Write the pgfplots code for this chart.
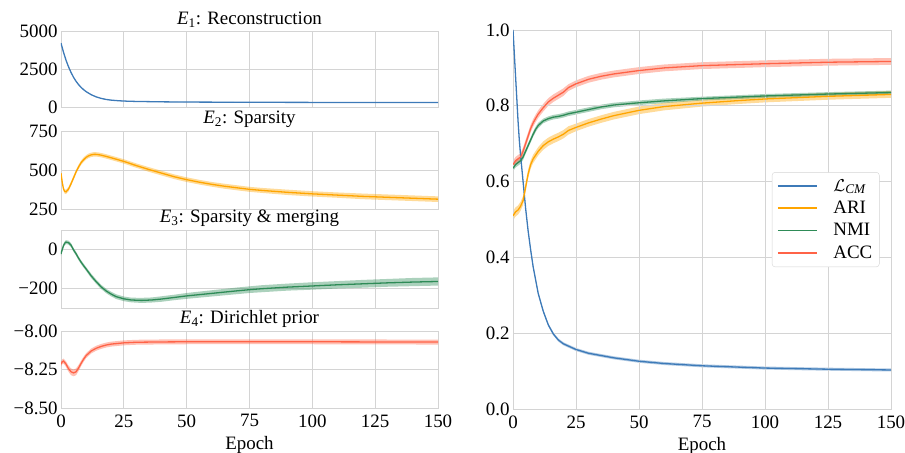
\documentclass[border=0pt]{standalone}
\usepackage{fontspec}
\setmainfont{Liberation Serif}
\usepackage{pgfplots}
\usepackage{pgfplotstable}
\pgfplotsset{compat=1.18}

\definecolor{cblue}{RGB}{61,122,184}
\definecolor{corange}{RGB}{255,165,0}
\definecolor{cgreen}{RGB}{46,139,87}
\definecolor{cred}{RGB}{255,99,71}
\definecolor{gridc}{RGB}{212,212,212}

\newcommand{\fs}{\fontsize{19}{22}\selectfont}

% x = epoch, y = mean, s = spread of the shaded band
\pgfplotstableread{
x y s
0 4200 40
1 3600 35
2 3080 30
3 2640 30
4 2270 25
5 1950 25
6 1690 20
7 1470 20
8 1290 20
9 1140 20
10 1010 20
12 810 15
14 665 15
16 565 15
18 495 15
20 450 15
23 410 15
26 385 15
30 365 15
40 340 15
50 325 15
75 310 15
100 302 15
125 298 15
150 295 15
}\recon

\pgfplotstableread{
x y s
0 480 14
0.5 420 14
1 378 14
1.5 362 14
2 360 14
3 378 14
4 412 14
5 450 14
6 488 14
7 520 14
8 547 14
9 566 14
10 581 14
11 591 14
12 597 14
13 600 14
14 600 14
15 598 14
16 595 14
18 587 14
20 578 14
22 569 14
25 555 14
30 528 14
35 503 15
40 480 15
45 457 15
50 438 15
55 422 15
60 408 15
65 396 16
70 386 16
75 376 16
80 369 16
90 357 17
100 347 17
110 339 17
120 331 18
130 325 18
140 319 18
150 313 18
}\sparse

\pgfplotstableread{
x y s
0 -22 10
0.5 0 10
1 20 10
1.5 32 10
2 38 10
3 35 10
4 22 10
5 -2 10
6 -22 10
7 -45 10
8 -65 10
9 -83 10
10 -100 10
12 -135 11
14 -165 11
16 -192 11
18 -213 11
20 -229 12
22 -242 12
25 -253 12
28 -259 12
32 -261 13
36 -259 13
40 -254 14
45 -246 14
50 -238 15
60 -225 16
70 -212 17
75 -206 17
80 -201 18
90 -193 18
100 -187 19
110 -181 19
120 -176 20
130 -171 20
140 -167 21
150 -164 21
}\merge

\pgfplotstableread{
x y s
0 -8.215 0.016
0.5 -8.200 0.016
1 -8.195 0.016
2 -8.215 0.018
3 -8.245 0.020
4 -8.265 0.022
5 -8.272 0.022
6 -8.265 0.022
7 -8.240 0.020
8 -8.210 0.018
9 -8.183 0.017
10 -8.160 0.016
12 -8.130 0.016
14 -8.112 0.016
16 -8.100 0.016
18 -8.091 0.016
20 -8.085 0.016
25 -8.077 0.016
30 -8.073 0.016
40 -8.071 0.016
50 -8.070 0.016
75 -8.070 0.016
100 -8.070 0.016
125 -8.071 0.016
150 -8.072 0.016
}\dirich

\pgfplotstableread{
x y s
0 1.0 0.004
1 0.88 0.004
2 0.76 0.004
2.5 0.71 0.004
3 0.67 0.004
4 0.60 0.004
5 0.53 0.004
6 0.47 0.004
7 0.42 0.004
8 0.375 0.004
9 0.34 0.004
10 0.305 0.004
12 0.258 0.004
14 0.222 0.004
16 0.198 0.004
18 0.182 0.004
20 0.172 0.004
25 0.157 0.004
30 0.147 0.004
40 0.135 0.004
50 0.126 0.004
60 0.120 0.004
75 0.114 0.004
100 0.108 0.004
125 0.105 0.004
150 0.103 0.004
}\lcm

\pgfplotstableread{
x y s
0 0.51 0.012
1 0.52 0.012
2 0.525 0.012
3 0.535 0.012
4 0.55 0.012
5 0.585 0.012
6 0.62 0.012
7 0.645 0.011
8 0.66 0.011
10 0.68 0.011
12 0.695 0.011
14 0.705 0.011
16 0.712 0.011
18 0.718 0.011
20 0.725 0.011
22 0.735 0.011
25 0.743 0.010
30 0.755 0.010
35 0.765 0.010
40 0.774 0.010
50 0.788 0.010
60 0.798 0.010
75 0.807 0.009
90 0.814 0.009
100 0.818 0.009
125 0.825 0.009
150 0.830 0.009
}\ari

\pgfplotstableread{
x y s
0 0.635 0.008
1 0.645 0.008
2 0.65 0.008
3 0.655 0.008
4 0.665 0.008
5 0.68 0.007
6 0.695 0.007
7 0.71 0.007
8 0.725 0.007
9 0.738 0.007
10 0.748 0.007
12 0.76 0.006
14 0.766 0.006
16 0.77 0.006
18 0.772 0.006
20 0.775 0.006
22 0.779 0.006
25 0.783 0.006
30 0.79 0.006
35 0.797 0.006
40 0.802 0.006
50 0.808 0.006
60 0.813 0.006
75 0.819 0.005
100 0.826 0.005
125 0.831 0.005
150 0.835 0.005
}\nmi

\pgfplotstableread{
x y s
0 0.645 0.01
1 0.655 0.01
2 0.66 0.01
3 0.665 0.01
4 0.68 0.01
5 0.70 0.01
6 0.72 0.01
7 0.74 0.01
8 0.755 0.01
9 0.767 0.01
10 0.778 0.01
12 0.795 0.01
14 0.81 0.01
16 0.82 0.01
18 0.828 0.01
20 0.836 0.01
22 0.848 0.009
25 0.858 0.009
30 0.87 0.009
35 0.878 0.009
40 0.884 0.009
50 0.893 0.009
60 0.90 0.009
75 0.906 0.009
100 0.911 0.009
125 0.915 0.009
150 0.917 0.009
}\acc

% shaded band (mean +- s) as a stacked area: #1 table, #2 colour
\newcommand{\band}[2]{%
  \addplot[draw=none, forget plot, stack plots=y] table[x=x, y expr=\thisrow{y}-\thisrow{s}] {#1};
  \addplot[fill=#2, fill opacity=0.4, draw=none, forget plot, stack plots=y] table[x=x, y expr=2*\thisrow{s}] {#1} \closedcycle;
}

\pgfplotsset{
  baseax/.style={
    scale only axis, anchor=south west,
    xmin=0, xmax=150, xtick={0,25,...,150},
    grid=major, major grid style={gridc, line width=0.8pt},
    axis line style={gridc, line width=0.8pt},
    major tick length=0pt,
    tick label style={font=\fs},
    xticklabel style={yshift=-3bp},
    label style={font=\fs},
    xlabel style={yshift=-2bp},
    title style={font=\fs, yshift=-6bp},
    /pgf/number format/assume math mode=true,
  },
  leftax/.style={baseax, width=377bp},
  rightpos/.style={scale only axis, anchor=south west, at={(513bp,44bp)},
    width=378bp, height=379bp, xmin=0, xmax=150, ymin=0, ymax=1},
  line/.style={#1, line width=1.3pt, stack plots=false},
}

\begin{document}
\begin{tikzpicture}
\path[use as bounding box] (0bp,0bp) rectangle (905bp,453bp);

\begin{axis}[leftax, at={(61bp,346bp)}, height=76bp,
  ymin=0, ymax=5000, ytick={0,2500,5000}, yticklabels={0,2500,5000},
  xticklabels={}, title={\textit{E}\textsubscript{1}: Reconstruction}]
  \band{\recon}{cblue}
  \addplot[line=cblue] table[x=x, y=y] {\recon};
\end{axis}

\begin{axis}[leftax, at={(61bp,244bp)}, height=78bp,
  ymin=250, ymax=750, ytick={250,500,750}, yticklabels={250,500,750},
  xticklabels={}, title={\textit{E}\textsubscript{2}: Sparsity}]
  \band{\sparse}{corange}
  \addplot[line=corange] table[x=x, y=y] {\sparse};
\end{axis}

\begin{axis}[leftax, at={(61bp,145bp)}, height=78bp,
  ymin=-300, ymax=100, ytick={-200,0}, yticklabels={−200,0},
  xticklabels={}, title={\textit{E}\textsubscript{3}: Sparsity \& merging}]
  \band{\merge}{cgreen}
  \addplot[line=cgreen] table[x=x, y=y] {\merge};
\end{axis}

\begin{axis}[leftax, at={(61bp,45bp)}, height=77bp,
  ymin=-8.5, ymax=-8.0, ytick={-8.5,-8.25,-8}, yticklabels={−8.50,−8.25,−8.00},
  xlabel={Epoch}, title={\textit{E}\textsubscript{4}: Dirichlet prior}]
  \band{\dirich}{cred}
  \addplot[line=cred] table[x=x, y=y] {\dirich};
\end{axis}

% one hidden axis per band, so that the stacks stay apart
\begin{axis}[rightpos, hide axis]
  \band{\lcm}{cblue}
\end{axis}
\begin{axis}[rightpos, hide axis]
  \band{\ari}{corange}
\end{axis}
\begin{axis}[rightpos, hide axis]
  \band{\nmi}{cgreen}
\end{axis}
\begin{axis}[rightpos, hide axis]
  \band{\acc}{cred}
\end{axis}

\begin{axis}[baseax, rightpos,
  ytick={0,0.2,...,1.0},
  yticklabel style={/pgf/number format/.cd, fixed, fixed zerofill, precision=1},
  xlabel={Epoch},
  legend cell align=left,
  legend style={at={(0.685,0.625)}, anchor=north west, draw=gridc,
    rounded corners=3pt, fill=white, font=\fs, row sep=4.5bp,
    inner xsep=5pt, inner ysep=5pt,
    /tikz/every odd column/.append style={column sep=14bp}},
  legend image code/.code={\draw[#1, line width=1.3pt] (0bp,0bp) -- (39bp,0bp);}]
  \addplot[line=cblue] table[x=x, y=y] {\lcm};
  \addplot[line=corange] table[x=x, y=y] {\ari};
  \addplot[line=cgreen] table[x=x, y=y] {\nmi};
  \addplot[line=cred] table[x=x, y=y] {\acc};
  \legend{$\mathcal{L}$\textsubscript{\textit{CM}}, ARI, NMI, ACC}
\end{axis}
\end{tikzpicture}
\end{document}
